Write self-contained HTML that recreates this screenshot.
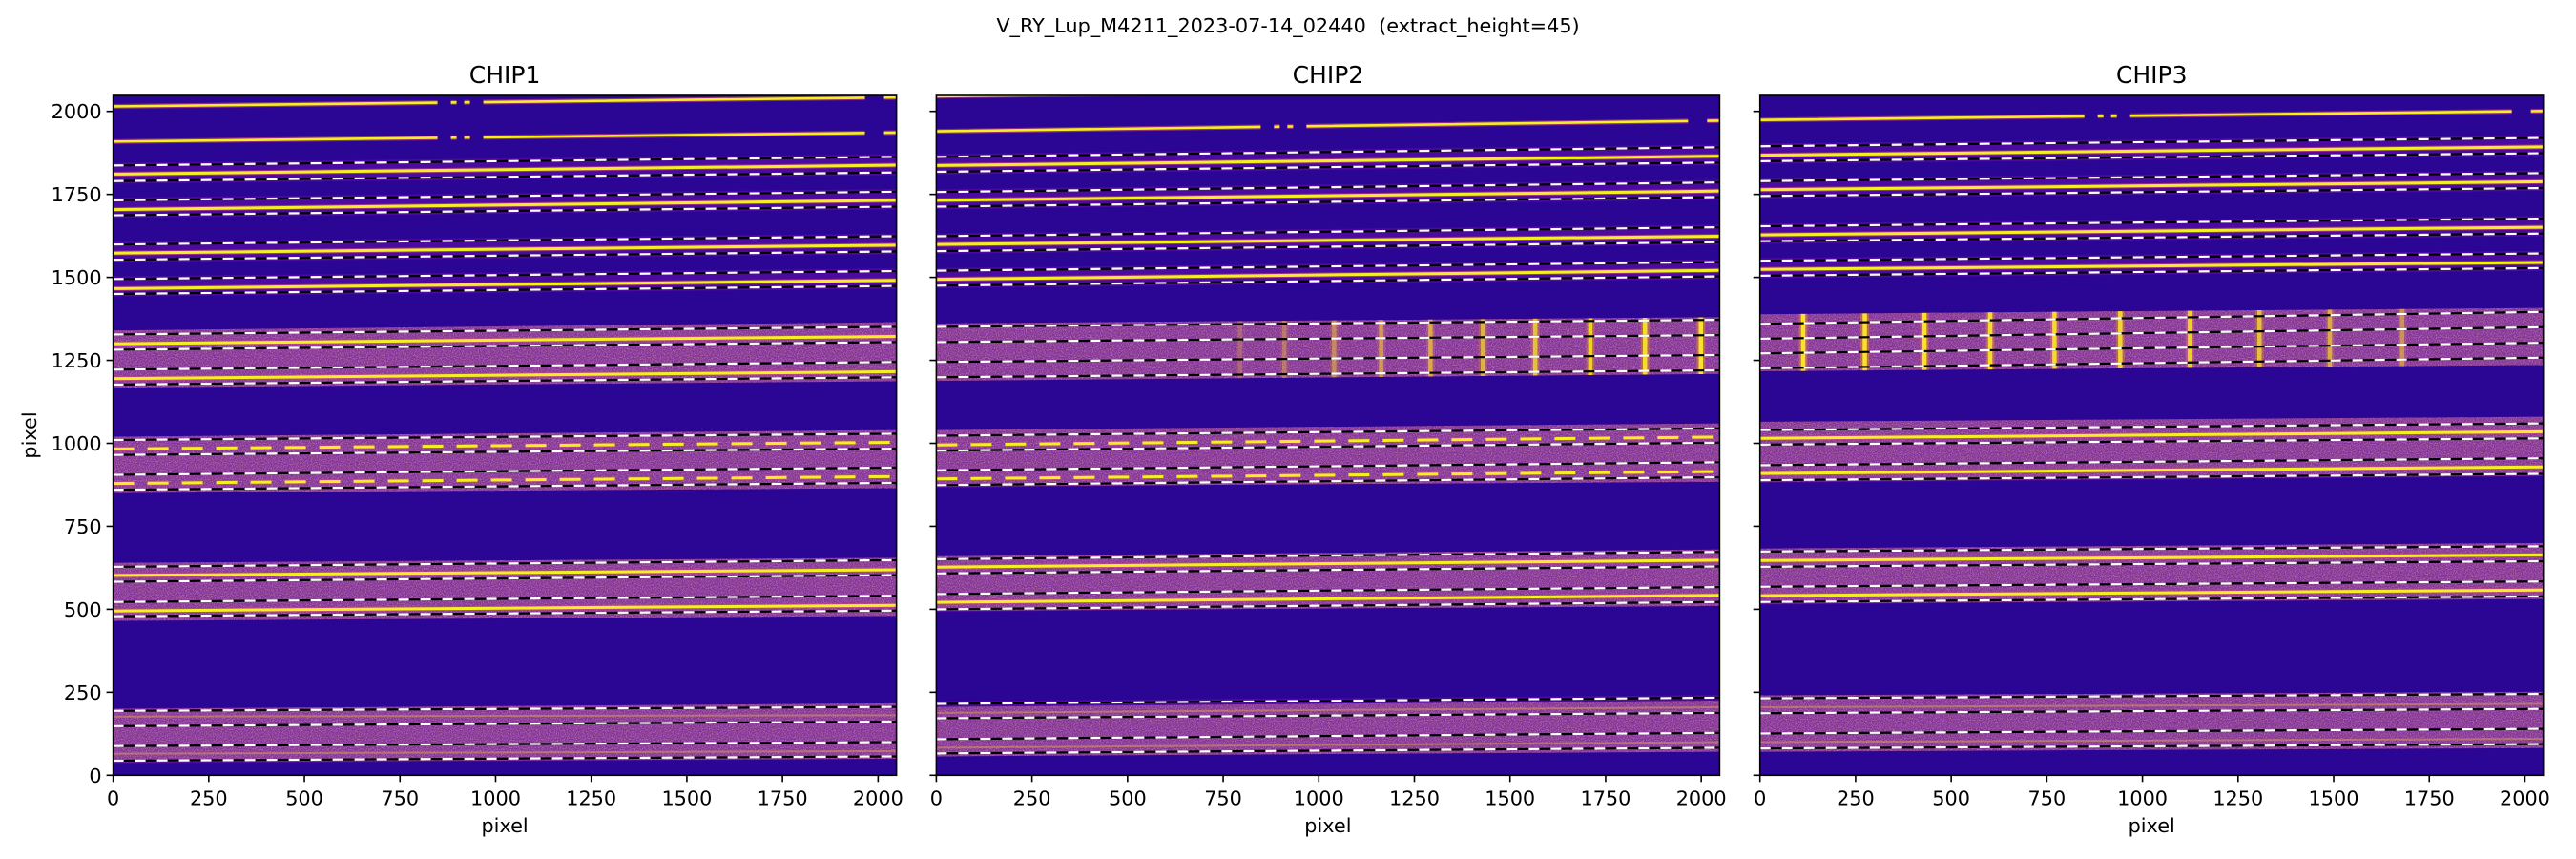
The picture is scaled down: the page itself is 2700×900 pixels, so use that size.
<!DOCTYPE html>
<html><head><meta charset="utf-8"><style>
html,body{margin:0;padding:0;background:#fff;}
svg{display:block;font-family:"DejaVu Sans","Liberation Sans",sans-serif;}
</style></head><body>
<svg id="fig" width="2700" height="900" viewBox="0 0 2700 900" xmlns="http://www.w3.org/2000/svg">
<defs>
<filter id="noise" x="0" y="0" width="100%" height="100%">
<feTurbulence type="fractalNoise" baseFrequency="0.9" numOctaves="1" seed="3" result="t"/>
<feColorMatrix in="t" type="matrix" values="0 0 0 0 0.95  0 0 0 0 0.55  0 0 0 0 0.35  0 0 0 2.2 -0.9"/>
<feComposite in2="SourceGraphic" operator="in"/>
</filter>
</defs>
<text x="1350" y="34" font-size="20.8" text-anchor="middle" xml:space="preserve">V_RY_Lup_M4211_2023-07-14_02440  (extract_height=45)</text>
<text transform="translate(38,456) rotate(-90)" font-size="20.8" text-anchor="middle">pixel</text>
</svg>
<script>
// ---- data (detector pixel units) ----
const chipNames = ["CHIP1","CHIP2","CHIP3"];
const tickValues = [0,250,500,750,1000,1250,1500,1750,2000];
// magenta illuminated bands: [bottomLeft, topLeft, bottomRight, topRight]
const bands1 = [[1168,1340,1187,1365],[850,1020,865,1040],[465,640,480,655],[40,200,50,217]];
const bands2 = [[1188,1361,1209,1380],[870,1040,884,1060],[495,660,510,680],[57,206,71,225]];
const bands3 = [[1217,1389,1236,1408],[884,1065,903,1080],[517,683,531,700],[71,241,82,251]];
// order extraction edges (dashed): [lowerLeft, upperLeft, lowerRight, upperRight]
const orders1 = [[1790,1837,1816,1863],[1687,1732,1713,1758],[1553,1599,1578,1624],[1450,1495,1474,1519],[1282,1328,1305,1351],[1177,1222,1199,1245],[965,1010,984,1029],[860,905,881,927],[583,628,603,648],[479,522,496,541],[148,194,162,206],[44,88,57,100]];
const orders2 = [[1818,1863,1846,1892],[1713,1757,1742,1786],[1579,1624,1606,1651],[1475,1520,1503,1546],[1305,1351,1326,1372],[1199,1245,1220,1266],[978,1023,1002,1045],[874,919,898,943],[608,651,629,673],[500,546,522,567],[172,215,188,234],[66,109,83,128]];
const orders3 = [[1850,1895,1874,1920],[1745,1790,1769,1814],[1609,1654,1632,1677],[1505,1550,1528,1572],[1315,1360,1350,1396],[1226,1271,1258,1303],[996,1040,1015,1060],[889,934,908,955],[628,674,645,690],[522,568,539,584],[187,232,200,245],[81,126,94,140]];
// yellow traces: [left, right]; styles: s solid, b broken, d dashed, f faint
const traces1 = [[2015,2042],[1909,1936],[1811,1838],[1704,1732],[1573,1597],[1466,1491],[1300,1322],[1195,1216],[983,1003],[879,900],[602,619],[495,512],[177,181],[65,73]];
const traceStyle1 = ["b","b","s","s","s","s","s","s","d","d","s","s","f","f"];
const traces2 = [[2046,2074],[1940,1972],[1837,1865],[1732,1760],[1599,1624],[1494,1521],[995,1019],[893,915],[627,648],[521,542],[188,205],[83,100]];
const traceStyle2 = ["s","b","s","s","s","s","d","d","s","s","f","f"];
const traces3 = [[1974,2001],[1868,1893],[1764,1788],[1628,1651],[1524,1545],[1015,1035],[909,929],[647,664],[541,558],[205,215],[100,110]];
const traceStyle3 = ["b","s","s","s","s","s","s","s","s","f","f"];
// arc emission lines (x position) and relative intensity
const arcX2 = [794,910,1040,1163,1292,1429,1566,1710,1853,1999];
const arcI2 = [0.2,0.3,0.4,0.5,0.6,0.65,0.75,0.85,0.95,1];
const arcX3 = [113,274,430,602,770,942,1124,1306,1490,1679];
const arcI3 = [1,1,1,0.95,0.95,0.9,0.85,0.75,0.6,0.45];

const chips = [
 {bands:bands1,orders:orders1,traces:traces1,styles:traceStyle1,arcX:[],arcI:[]},
 {bands:bands2,orders:orders2,traces:traces2,styles:traceStyle2,arcX:arcX2,arcI:arcI2},
 {bands:bands3,orders:orders3,traces:traces3,styles:traceStyle3,arcX:arcX3,arcI:arcI3}
];
const axLefts = [118.6,981.4,1844.7];
const AX_W = 821, AX_TOP = 100, AX_BOT = 812.3, NPIX = 2048;
const NS = "http://www.w3.org/2000/svg";
const svg = document.getElementById("fig");
function mk(tag, attrs, parent){
  const e = document.createElementNS(NS, tag);
  for (const k in attrs) e.setAttribute(k, attrs[k]);
  (parent||svg).appendChild(e);
  return e;
}
chips.forEach((c, ci) => {
  const L = axLefts[ci];
  const sx = v => L + v * AX_W / NPIX;
  const sy = v => AX_BOT - v * (AX_BOT - AX_TOP) / NPIX;
  const lin = (a, b, x) => a + (b - a) * x / NPIX;
  const g = mk("g", {});
  
  
  const cp = mk("clipPath", {id: "clip" + ci}, g);
  mk("rect", {x: L, y: AX_TOP, width: AX_W, height: AX_BOT - AX_TOP}, cp);
  const plot = mk("g", {"clip-path": "url(#clip" + ci + ")"}, g);
  const bg = mk("rect", {x: L, y: AX_TOP, width: AX_W, height: AX_BOT - AX_TOP, fill: "#2b0593"}, plot);
  
  
  c.orders.forEach(o => {
    const p = mk("polygon", {points: `${sx(0)},${sy(o[0]-8)} ${sx(NPIX)},${sy(o[2]-8)} ${sx(NPIX)},${sy(o[3]+8)} ${sx(0)},${sy(o[1]+8)}`, fill: "#4c0ba0"}, plot);
    
    
  });
  c.bands.forEach(b => {
    const pts = `${sx(0)},${sy(b[0])} ${sx(NPIX)},${sy(b[2])} ${sx(NPIX)},${sy(b[3])} ${sx(0)},${sy(b[1])}`;
    const p = mk("polygon", {points: pts, fill: "#80309c"}, plot);
    
    
    const n = mk("polygon", {points: pts, fill: "#fff", filter: "url(#noise)", opacity: "0.6"}, plot);
    
    
  });
  c.arcX.forEach((x, i) => {
    const b = c.bands[0];
    const y0 = lin(b[0], b[2], x), y1 = lin(b[1], b[3], x);
    const a = c.arcI[i];
    const glow = mk("line", {x1: sx(x), x2: sx(x), y1: sy(y0), y2: sy(y1), stroke: "#e8853a", "stroke-width": 9, opacity: 0.5 * a}, plot);
    
    
    const l = mk("line", {x1: sx(x), x2: sx(x), y1: sy(y0), y2: sy(y1), stroke: "#f6e32a", "stroke-width": 4.5, opacity: a}, plot);
    
    
  });
  c.traces.forEach((t, i) => {
    const st = c.styles[i];
    const x1 = sx(0), x2 = sx(NPIX), y1 = sy(t[0]), y2 = sy(t[1]);
    if (st === "f") {
      const l = mk("line", {x1, y1, x2, y2, stroke: "#e8b040", "stroke-width": 2, opacity: 0.45}, plot);
      
      
      return;
    }
    const gl = mk("line", {x1, y1, x2, y2, stroke: "#d0487a", "stroke-width": 5, opacity: 0.6}, plot);
    
    
    const l = mk("line", {x1, y1, x2, y2, stroke: "#f3f022", "stroke-width": st === "b" ? 2.6 : 3}, plot);
    let da = null;
    if (st === "b") da = "340 14 6 8 6 14 400 20";
    if (st === "d") da = "22 14";
    if (da) { l.setAttribute("stroke-dasharray", da); gl.setAttribute("stroke-dasharray", da); }
    
    
  });
  c.orders.forEach(o => {
    [[o[0], o[2]], [o[1], o[3]]].forEach(e => {
      const a = {x1: sx(0), y1: sy(e[0]), x2: sx(NPIX), y2: sy(e[1])};
      const k = mk("line", Object.assign({stroke: "#000", "stroke-width": 2.2}, a), plot);
      
      
      const w = mk("line", Object.assign({stroke: "#fff", "stroke-width": 2.2, "stroke-dasharray": "11 12"}, a), plot);
      
      
    });
  });
  const fr = mk("rect", {x: L, y: AX_TOP, width: AX_W, height: AX_BOT - AX_TOP, fill: "none", stroke: "#000", "stroke-width": 1.6}, g);
  
  
  tickValues.forEach(v => {
    const tx = mk("line", {x1: sx(v), x2: sx(v), y1: AX_BOT, y2: AX_BOT + 7, stroke: "#000", "stroke-width": 1.6}, g);
    
    
    const lx = mk("text", {x: sx(v), y: AX_BOT + 31, "font-size": 20.8, "text-anchor": "middle"}, g);
    lx.textContent = v;
    
    
    const ty = mk("line", {x1: L - 7, x2: L, y1: sy(v), y2: sy(v), stroke: "#000", "stroke-width": 1.6}, g);
    
    
    if (ci === 0) {
      const ly = mk("text", {x: L - 12, y: sy(v) + 7.5, "font-size": 20.8, "text-anchor": "end"}, g);
      ly.textContent = v;
      
      
    }
  });
  const t = mk("text", {x: L + AX_W / 2, y: 87, "font-size": 25, "text-anchor": "middle"}, g);
  t.textContent = chipNames[ci];
  
  
  const xl = mk("text", {x: L + AX_W / 2, y: 872, "font-size": 20.8, "text-anchor": "middle"}, g);
  xl.textContent = "pixel";
  
  
});
</script>
</body></html>
